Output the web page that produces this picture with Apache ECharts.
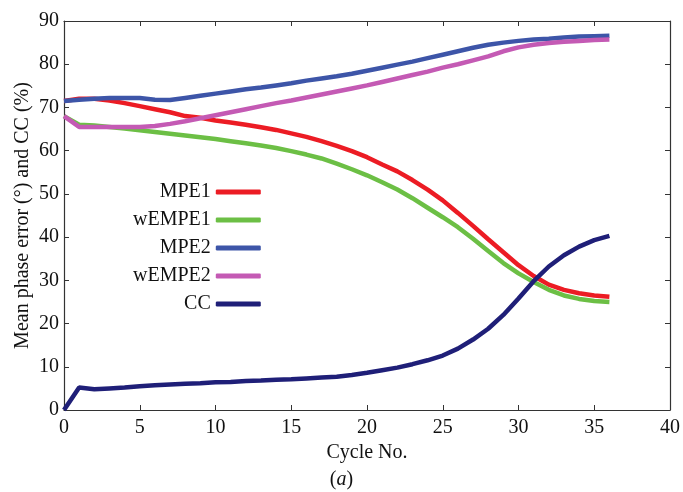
<!DOCTYPE html>
<html>
<head>
<meta charset="utf-8">
<title>Mean phase error and CC</title>
<script src="https://cdn.jsdelivr.net/npm/echarts@6/dist/echarts.min.js"></script>
<style>
  html, body { margin: 0; padding: 0; background: #fff; }
  #main { width: 683px; height: 492px; }
</style>
</head>
<body>
<div id="main"></div>
<script type="text/javascript">
// data, one point per cycle 0..36
var cycles = [];
for (var i = 0; i <= 36; i++) cycles.push(i);

var mpe1 = [71.5, 72.0, 72.0, 71.6, 71.0, 70.3, 69.6, 68.9, 68.0, 67.6,
            67.0, 66.5, 66.0, 65.4, 64.8, 64.0, 63.2, 62.2, 61.1, 59.9,
            58.5, 56.8, 55.2, 53.2, 51.0, 48.5, 45.6, 42.6, 39.5, 36.5,
            33.5, 31.0, 29.0, 27.8, 27.0, 26.5, 26.2];
var wempe1 = [68.0, 66.0, 65.8, 65.5, 65.1, 64.7, 64.3, 63.9, 63.5, 63.1,
              62.7, 62.2, 61.7, 61.2, 60.6, 59.9, 59.1, 58.2, 57.0, 55.7,
              54.3, 52.7, 51.0, 49.0, 46.8, 44.6, 42.3, 39.6, 36.8, 34.0,
              31.6, 29.6, 27.8, 26.5, 25.7, 25.2, 25.0];
var mpe2 = [71.5, 71.8, 72.0, 72.2, 72.2, 72.2, 71.8, 71.7, 72.2, 72.7,
            73.2, 73.7, 74.2, 74.6, 75.1, 75.6, 76.2, 76.7, 77.2, 77.8,
            78.5, 79.2, 79.9, 80.6, 81.4, 82.2, 83.0, 83.8, 84.5, 85.0,
            85.4, 85.7, 85.9, 86.2, 86.4, 86.5, 86.6];
var wempe2 = [68.0, 65.5, 65.5, 65.5, 65.5, 65.5, 65.7, 66.2, 66.8, 67.5,
              68.2, 68.9, 69.6, 70.3, 71.0, 71.6, 72.3, 73.0, 73.7, 74.4,
              75.1, 75.9, 76.7, 77.5, 78.3, 79.2, 80.0, 80.9, 81.8, 83.0,
              83.9, 84.5, 84.9, 85.2, 85.4, 85.6, 85.7];
var cc = [0.0, 5.2, 4.8, 5.0, 5.2, 5.5, 5.7, 5.9, 6.1, 6.2,
          6.4, 6.5, 6.7, 6.8, 7.0, 7.1, 7.3, 7.5, 7.7, 8.1,
          8.6, 9.2, 9.8, 10.6, 11.5, 12.6, 14.2, 16.3, 18.8, 22.0,
          25.8, 29.8, 33.2, 35.8, 37.8, 39.3, 40.3];

var names = ['MPE1', 'wEMPE1', 'MPE2', 'wEMPE2', 'CC'];
var colors = ['#ec1c24', '#6cbf45', '#3d55a8', '#c45ab4', '#1f1f78'];
var values = [mpe1, wempe1, mpe2, wempe2, cc];

var font = '"Liberation Serif", "Times New Roman", serif';
var fs = 20;

function pairs(ys) {
    return ys.map(function (v, k) { return [cycles[k], v]; });
}

var series = names.map(function (n, k) {
    return {
        name: n,
        type: 'line',
        data: pairs(values[k]),
        showSymbol: false,
        z: k === 4 ? 3 : 2,
        lineStyle: { color: colors[k], width: 4.5 },
        itemStyle: { color: colors[k] }
    };
});

var myChart = echarts.init(document.getElementById('main'));

var axisLine = { show: true, onZero: false, lineStyle: { color: '#333', width: 1.2 } };
var tick = { show: true, inside: true, length: 5, lineStyle: { color: '#333' } };

var option = {
    backgroundColor: '#fff',
    animation: false,
    grid: { left: 64, right: 13, top: 21, bottom: 82 },
    legend: {
        data: names,
        orient: 'vertical',
        align: 'right',
        left: 133,
        top: 182,
        padding: 0,
        itemGap: 8,
        itemWidth: 45,
        itemHeight: 5,
        icon: 'roundRect',
        textStyle: { fontFamily: font, fontSize: fs, color: '#111', lineHeight: 20 }
    },
    xAxis: [{
        type: 'value',
        min: 0, max: 40, interval: 5,
        name: 'Cycle No.',
        nameLocation: 'middle',
        nameGap: 33,
        nameTextStyle: { fontFamily: font, fontSize: fs, color: '#111' },
        axisLine: axisLine,
        axisTick: tick,
        axisLabel: { fontFamily: font, fontSize: fs, color: '#111', margin: 8 },
        splitLine: { show: false }
    }, {
        type: 'value',
        position: 'top',
        min: 0, max: 40, interval: 5,
        axisLine: axisLine,
        axisTick: tick,
        axisLabel: { show: false },
        splitLine: { show: false }
    }],
    yAxis: [{
        type: 'value',
        min: 0, max: 90, interval: 10,
        name: 'Mean phase error (°) and CC (%)',
        nameLocation: 'middle',
        nameGap: 31,
        nameMoveOverlap: false,
        nameTextStyle: { fontFamily: font, fontSize: fs, color: '#111' },
        axisLine: axisLine,
        axisTick: tick,
        axisLabel: { fontFamily: font, fontSize: fs, color: '#111', margin: 5 },
        splitLine: { show: false }
    }, {
        type: 'value',
        position: 'right',
        min: 0, max: 90, interval: 10,
        axisLine: axisLine,
        axisTick: tick,
        axisLabel: { show: false },
        splitLine: { show: false }
    }],
    graphic: [{
        type: 'text',
        left: 'center',
        top: 470,
        style: {
            text: '({i|a})',
            fontFamily: font,
            fontSize: fs,
            fill: '#111',
            rich: { i: { fontStyle: 'italic', fontFamily: font, fontSize: fs, fill: '#111' } }
        }
    }],
    series: series
};

myChart.setOption(option);
</script>
</body>
</html>
